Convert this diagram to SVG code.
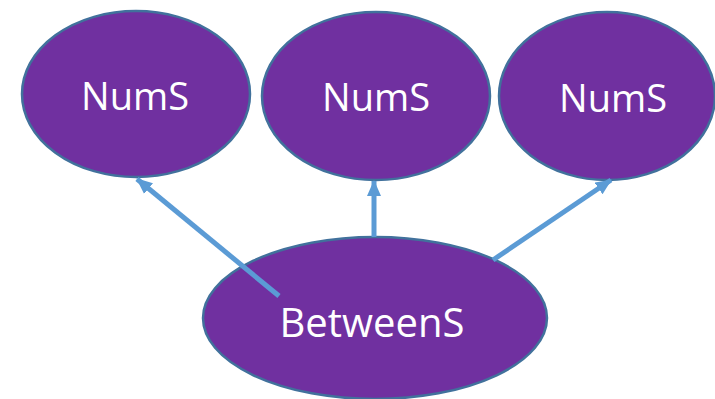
<svg xmlns="http://www.w3.org/2000/svg" width="715" height="399" viewBox="0 0 715 399">
  <style>
    .node ellipse { fill: #7030A0; stroke: #41719C; stroke-width: 2.5; }
    .node text { fill: #FFFFFF; font-family: "Open Sans", "Noto Sans", "Liberation Sans", sans-serif; text-anchor: middle; }
    .edge { stroke: #5B9BD5; stroke-width: 5; fill: none; marker-end: url(#arrow); }
  </style>
  <defs>
    <marker id="arrow" markerUnits="userSpaceOnUse" markerWidth="16" markerHeight="16" viewBox="0 0 16 16" refX="15" refY="8" orient="auto">
      <path d="M0,1 L16,8 L0,15 Z" fill="#5B9BD5"/>
    </marker>
  </defs>

  <g id="nums-left" class="node">
    <ellipse cx="136" cy="94" rx="114" ry="83"/>
    <text x="135" y="110" font-size="38">NumS</text>
  </g>
  <g id="nums-middle" class="node">
    <ellipse cx="376" cy="96" rx="114" ry="84"/>
    <text x="376" y="111" font-size="38">NumS</text>
  </g>
  <g id="nums-right" class="node">
    <ellipse cx="607" cy="96" rx="108" ry="84"/>
    <text x="613" y="112" font-size="38">NumS</text>
  </g>
  <g id="betweens" class="node">
    <ellipse cx="375" cy="318" rx="172" ry="81"/>
    <text x="372" y="337" font-size="40">BetweenS</text>
  </g>

  <g id="connectors">
    <line class="edge" x1="279" y1="296" x2="137" y2="179"/>
    <line class="edge" x1="374" y1="237" x2="374" y2="181"/>
    <line class="edge" x1="493" y1="260" x2="611" y2="180"/>
  </g>
</svg>
